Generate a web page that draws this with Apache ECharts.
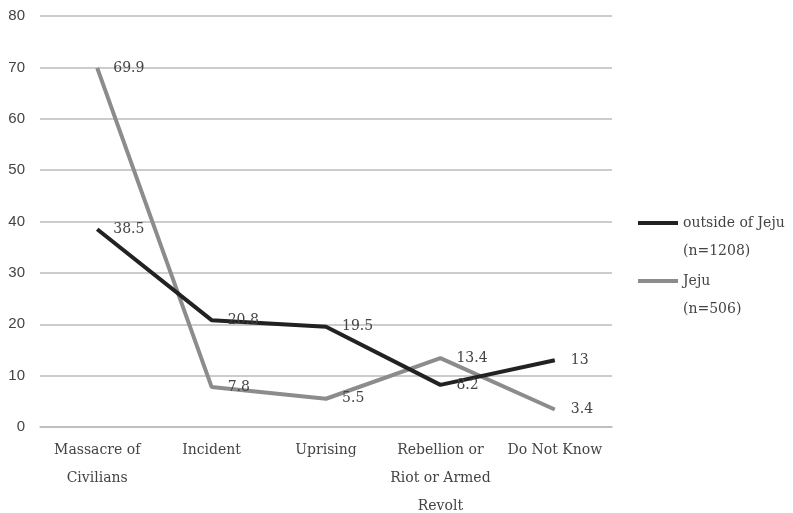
<!DOCTYPE html>
<html><head><meta charset="utf-8">
<script src="https://cdn.jsdelivr.net/npm/echarts@6/dist/echarts.min.js"></script>
<style>html,body{margin:0;padding:0;background:#fff}#c{width:793px;height:513px}</style>
</head><body><div id="c"></div>
<script>
const categories = ['Massacre of\nCivilians', 'Incident', 'Uprising', 'Rebellion or\nRiot or Armed\nRevolt', 'Do Not Know'];
const outsideJeju = [38.5, 20.8, 19.5, 8.2, 13];
const jeju = [69.9, 7.8, 5.5, 13.4, 3.4];
const seriesNames = ['outside of Jeju', 'Jeju'];
const seriesNotes = ['(n=1208)', '(n=506)'];

const serif = '"DejaVu Serif", "Liberation Serif", serif';
const chart = echarts.init(document.getElementById('c'));
const lbl = {show: true, position: 'right', distance: 16, fontFamily: serif, fontSize: 14, color: '#444'};
chart.setOption({
  animation: false,
  grid: {left: 40, right: 181, top: 16, bottom: 86, containLabel: false, outerBoundsMode: 'none'},
  legend: {
    orient: 'vertical', left: 638, top: 181, itemGap: -26, padding: 0,
    icon: 'rect', itemWidth: 40, itemHeight: 4,
    textStyle: {fontFamily: serif, fontSize: 14, color: '#444', lineHeight: 28},
    formatter: n => ' \n' + n + '\n' + seriesNotes[seriesNames.indexOf(n)],
    data: seriesNames
  },
  xAxis: {
    type: 'category', data: categories, boundaryGap: true,
    axisLine: {lineStyle: {color: '#bbb', width: 1.5}},
    axisTick: {show: false},
    axisLabel: {fontFamily: serif, fontSize: 14, color: '#444', lineHeight: 28, margin: 9, interval: 0}
  },
  yAxis: {
    type: 'value', min: 0, max: 80, interval: 10,
    axisLine: {show: false}, axisTick: {show: false},
    axisLabel: {fontFamily: '"Liberation Sans", Arial, sans-serif', fontSize: 15, color: '#444', margin: 15},
    splitLine: {lineStyle: {color: '#bbb', width: 1.5}}
  },
  series: [
    {name: seriesNames[0], type: 'line', data: outsideJeju, symbol: 'circle', symbolSize: 0.1,
     lineStyle: {color: '#222', width: 4}, itemStyle: {color: '#222'}, label: lbl, z: 3},
    {name: seriesNames[1], type: 'line', data: jeju, symbol: 'circle', symbolSize: 0.1,
     lineStyle: {color: '#8c8c8c', width: 4}, itemStyle: {color: '#8c8c8c'}, label: lbl, z: 2}
  ]
});
</script></body></html>
